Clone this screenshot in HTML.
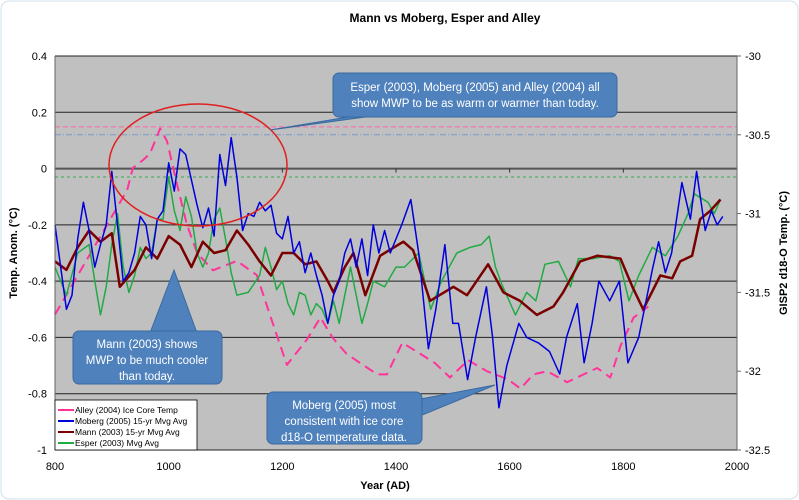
<!DOCTYPE html>
<html><head><meta charset="utf-8"><style>
body{margin:0;background:#fff;font-family:"Liberation Sans",sans-serif}
#wrap{position:relative;width:799px;height:500px;overflow:hidden}
svg text{font-family:"Liberation Sans",sans-serif}
</style></head><body>
<div id="wrap">
<svg id="chart" width="799" height="500" xmlns="http://www.w3.org/2000/svg">
<rect x="1" y="1" width="797" height="498" rx="8" fill="#fff" stroke="#cfe0ea"/>
<rect x="55" y="56" width="682" height="394" fill="#c0c0c0"/>
<g id="grid"></g><g id="refs"></g><g id="series"></g><g id="axes"></g>
<text x="445" y="22" text-anchor="middle" font-size="12" font-weight="bold">Mann vs Moberg,  Esper and Alley</text>
<text x="385" y="489" text-anchor="middle" font-size="11" font-weight="bold">Year (AD)</text>
<text transform="translate(17,253) rotate(-90)" text-anchor="middle" font-size="11" font-weight="bold">Temp. Anom. (°C)</text>
<text transform="translate(787,253) rotate(-90)" text-anchor="middle" font-size="11" font-weight="bold">GISP2 d18-O Temp. (°C)</text>
<ellipse cx="198" cy="165" rx="89" ry="61" fill="none" stroke="#e02020" stroke-width="1.5"/>
<g>
<path d="M270,130 L380,115 L360,115 Z" fill="#4f81bd" stroke="#3a6aa0"/>
<rect x="333" y="73" width="284" height="44" rx="6" fill="#4f81bd" stroke="#3a6aa0"/>
<text x="475" y="91" text-anchor="middle" font-size="11.5" fill="#fff">Esper (2003), Moberg (2005) and Alley (2004) all</text>
<text x="475" y="107" text-anchor="middle" font-size="11.5" fill="#fff">show MWP to be as warm or warmer than today.</text>
</g>
<g>
<path d="M174,270 L150,333 L197,333 Z" fill="#4f81bd" stroke="#3a6aa0"/>
<rect x="73" y="331" width="149" height="53" rx="6" fill="#4f81bd" stroke="#3a6aa0"/>
<text x="147" y="348" text-anchor="middle" font-size="11.5" fill="#fff">Mann  (2003) shows</text>
<text x="147" y="364" text-anchor="middle" font-size="11.5" fill="#fff">MWP to be much cooler</text>
<text x="147" y="380" text-anchor="middle" font-size="11.5" fill="#fff">than today.</text>
</g>
<g>
<path d="M495,385 L415,400 L415,418 Z" fill="#4f81bd" stroke="#3a6aa0"/>
<rect x="267" y="392" width="155" height="52" rx="6" fill="#4f81bd" stroke="#3a6aa0"/>
<text x="344" y="409" text-anchor="middle" font-size="11.5" fill="#fff">Moberg  (2005) most</text>
<text x="344" y="425" text-anchor="middle" font-size="11.5" fill="#fff">consistent with ice core</text>
<text x="344" y="441" text-anchor="middle" font-size="11.5" fill="#fff">d18-O temperature data.</text>
</g>
<g>
<rect x="55" y="400" width="142" height="50" fill="#fff" stroke="#000" stroke-width="0.8"/>
<line x1="58" y1="410" x2="74" y2="410" stroke="#ff3399" stroke-width="2"/><text x="75" y="413" font-size="8.5">Alley (2004) Ice Core Temp</text>
<line x1="58" y1="421" x2="74" y2="421" stroke="#0000dd" stroke-width="2"/><text x="75" y="424" font-size="8.5">Moberg (2005) 15-yr Mvg Avg</text>
<line x1="58" y1="432" x2="74" y2="432" stroke="#7a0000" stroke-width="2"/><text x="75" y="435" font-size="8.5">Mann (2003) 15-yr Mvg Avg</text>
<line x1="58" y1="443" x2="74" y2="443" stroke="#22aa44" stroke-width="2"/><text x="75" y="446" font-size="8.5">Esper (2003) Mvg Avg</text>
</g>
</svg></div>
<script>
const xTicks=[800,1000,1200,1400,1600,1800,2000];
const yTicks=[0.4,0.2,0,-0.2,-0.4,-0.6,-0.8,-1];
const y2Ticks=[-30,-30.5,-31,-31.5,-32,-32.5];
const mannYears=[800,820,840,860,880,900,914,940,960,980,1000,1020,1040,1060,1080,1100,1120,1140,1160,1180,1200,1220,1240,1260,1280,1290,1310,1325,1346,1372,1413,1430,1460,1501,1525,1562,1589,1618,1648,1677,1694,1724,1754,1795,1816,1835,1865,1886,1900,1921,1935,1953,1971];
const mannVals=[-0.33,-0.36,-0.28,-0.22,-0.26,-0.23,-0.42,-0.36,-0.28,-0.32,-0.24,-0.27,-0.35,-0.26,-0.30,-0.29,-0.22,-0.27,-0.33,-0.38,-0.30,-0.30,-0.34,-0.33,-0.40,-0.44,-0.35,-0.30,-0.45,-0.31,-0.26,-0.29,-0.47,-0.42,-0.45,-0.34,-0.44,-0.47,-0.52,-0.49,-0.44,-0.33,-0.31,-0.32,-0.42,-0.50,-0.38,-0.39,-0.33,-0.31,-0.18,-0.15,-0.11];
const mobergYears=[800,810,820,830,840,850,860,870,880,890,900,910,920,930,940,950,960,970,980,990,1000,1010,1020,1030,1040,1050,1060,1070,1080,1090,1100,1110,1120,1130,1140,1150,1160,1170,1180,1190,1200,1210,1220,1230,1240,1250,1260,1270,1280,1290,1300,1310,1320,1330,1340,1350,1360,1370,1380,1390,1410,1426,1440,1457,1470,1486,1500,1510,1526,1540,1559,1570,1581,1595,1616,1630,1651,1670,1688,1700,1719,1731,1745,1757,1776,1793,1808,1827,1851,1862,1874,1885,1903,1918,1929,1944,1955,1965,1975];
const mobergVals=[-0.2,-0.35,-0.5,-0.45,-0.25,-0.12,-0.22,-0.35,-0.27,-0.2,-0.01,-0.2,-0.4,-0.37,-0.3,-0.17,-0.2,-0.32,-0.18,-0.15,0.02,-0.08,0.07,0.05,-0.04,-0.13,-0.21,-0.14,-0.24,0.05,-0.06,0.11,-0.03,-0.22,-0.16,-0.17,-0.12,-0.15,-0.13,-0.23,-0.25,-0.17,-0.3,-0.26,-0.37,-0.3,-0.38,-0.45,-0.55,-0.45,-0.4,-0.3,-0.25,-0.35,-0.25,-0.38,-0.2,-0.3,-0.22,-0.3,-0.2,-0.11,-0.3,-0.64,-0.5,-0.27,-0.55,-0.55,-0.75,-0.6,-0.42,-0.6,-0.85,-0.7,-0.55,-0.6,-0.62,-0.65,-0.73,-0.6,-0.48,-0.69,-0.55,-0.4,-0.47,-0.4,-0.69,-0.6,-0.36,-0.26,-0.37,-0.3,-0.05,-0.18,-0.01,-0.22,-0.15,-0.2,-0.17];
const esperYears=[800,820,840,860,870,880,890,900,910,920,930,940,950,960,970,980,990,1000,1010,1020,1030,1040,1050,1060,1070,1080,1090,1100,1110,1120,1140,1160,1170,1180,1190,1200,1210,1220,1230,1240,1250,1260,1270,1280,1290,1300,1310,1320,1330,1340,1350,1360,1380,1400,1415,1440,1461,1480,1507,1530,1550,1564,1575,1586,1610,1630,1646,1662,1686,1707,1721,1746,1776,1793,1810,1827,1851,1874,1896,1914,1925,1949,1960,1971];
const esperVals=[-0.35,-0.45,-0.3,-0.27,-0.4,-0.52,-0.42,-0.27,-0.16,-0.35,-0.44,-0.38,-0.28,-0.32,-0.3,-0.18,-0.18,-0.03,-0.15,-0.22,-0.1,-0.17,-0.3,-0.35,-0.3,-0.18,-0.14,-0.25,-0.37,-0.45,-0.44,-0.38,-0.28,-0.35,-0.43,-0.4,-0.48,-0.52,-0.44,-0.45,-0.52,-0.48,-0.5,-0.55,-0.47,-0.55,-0.45,-0.35,-0.45,-0.55,-0.48,-0.4,-0.42,-0.35,-0.35,-0.3,-0.5,-0.4,-0.3,-0.28,-0.27,-0.24,-0.35,-0.41,-0.52,-0.44,-0.47,-0.34,-0.33,-0.42,-0.32,-0.32,-0.31,-0.33,-0.47,-0.38,-0.28,-0.31,-0.24,-0.16,-0.09,-0.12,-0.16,-0.11];
const alleyYears=[800,874,927,937,955,967,985,997,1015,1032,1050,1078,1120,1155,1178,1208,1243,1267,1289,1313,1367,1384,1411,1443,1469,1495,1527,1560,1596,1619,1642,1666,1701,1730,1754,1777,1795,1818,1844];
const alleyVals=[-31.64,-31.18,-30.85,-30.71,-30.66,-30.62,-30.46,-30.54,-30.82,-31.07,-31.25,-31.36,-31.30,-31.39,-31.64,-31.96,-31.80,-31.66,-31.79,-31.89,-32.02,-32.02,-31.82,-31.89,-31.95,-32.04,-31.93,-32.0,-32.05,-32.11,-32.02,-32.0,-32.07,-32.02,-31.98,-32.04,-31.84,-31.66,-31.59];
const refAlley=-30.45, refMoberg=-30.5, refEsper=-0.03;

const X0=55,X1=737,Y0=56,Y1=450,NS="http://www.w3.org/2000/svg";
const xs=y=>X0+(y-800)/1200*(X1-X0);
const ys=v=>Y0+(0.4-v)/1.4*(Y1-Y0);
const ys2=v=>Y0+(-30-v)/2.5*(Y1-Y0);
function mk(tag,attrs,parent,txt){const e=document.createElementNS(NS,tag);for(const k in attrs)e.setAttribute(k,attrs[k]);if(txt!==undefined)e.textContent=txt;document.getElementById(parent).appendChild(e);return e;}
yTicks.forEach(v=>{
  const l=mk('line',{x1:X0,x2:X1,y1:ys(v),y2:ys(v),stroke:(v===0?'#555':'#222'),'stroke-width':(v===0?2:1)},'grid');
  
  
  const t=mk('text',{x:X0-8,y:ys(v)+4,'text-anchor':'end','font-size':11},'axes',String(v));
  
  
});
y2Ticks.forEach(v=>{
  const t=mk('text',{x:X1+8,y:ys2(v)+4,'font-size':11},'axes',String(v));
  
  
  const k=mk('line',{x1:X1,x2:X1+4,y1:ys2(v),y2:ys2(v),stroke:'#666'},'axes');
  
  
});
xTicks.forEach(v=>{
  const t=mk('text',{x:xs(v),y:470,'text-anchor':'middle','font-size':11},'axes',String(v));
  
  
  const k=mk('line',{x1:xs(v),x2:xs(v),y1:ys(0),y2:ys(0)+4,stroke:'#333'},'axes');
  
  
});
const a1=mk('line',{x1:X0,x2:X0,y1:Y0,y2:Y1,stroke:'#666'},'axes');


const a2=mk('line',{x1:X1,x2:X1,y1:Y0,y2:Y1,stroke:'#666'},'axes');


const r1=mk('line',{x1:X0,x2:X1,y1:ys2(refAlley),y2:ys2(refAlley),stroke:'#ff66aa','stroke-dasharray':'5,3'},'refs');


const r2=mk('line',{x1:X0,x2:X1,y1:ys2(refMoberg),y2:ys2(refMoberg),stroke:'#7799cc','stroke-dasharray':'6,2,1,2'},'refs');


const r3=mk('line',{x1:X0,x2:X1,y1:ys(refEsper),y2:ys(refEsper),stroke:'#33aa55','stroke-dasharray':'3,3'},'refs');


function series(yrs,vals,yf,color,w,dash,name){
  const d=yrs.map((y,i)=>(i?'L':'M')+xs(y).toFixed(1)+','+yf(vals[i]).toFixed(1)).join(' ');
  const p=mk('path',{d:d,fill:'none',stroke:color,'stroke-width':w,'stroke-linejoin':'round'},'series');
  if(dash)p.setAttribute('stroke-dasharray',dash);
  
  
}
series(alleyYears,alleyVals,ys2,'#ff3399',2,'10,6','alley-series');
series(esperYears,esperVals,ys,'#22aa44',1.5,null,'esper-series');
series(mannYears,mannVals,ys,'#7a0000',2.5,null,'mann-series');
series(mobergYears,mobergVals,ys,'#0000dd',1.5,null,'moberg-series');
</script>
</body></html>
